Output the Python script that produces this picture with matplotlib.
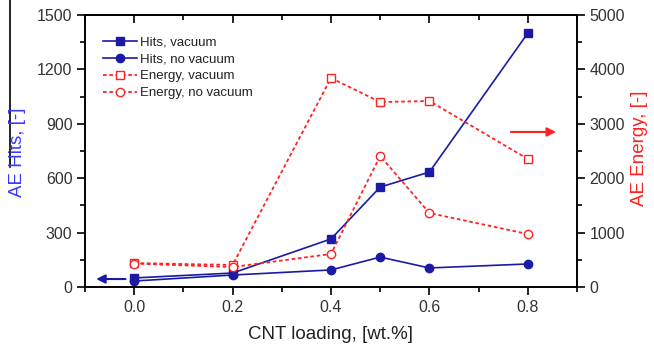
import matplotlib
matplotlib.use("Agg")
import matplotlib.pyplot as plt
from matplotlib.lines import Line2D
from matplotlib.ticker import MultipleLocator

plt.rcParams['font.family'] = ['Liberation Sans', 'DejaVu Sans']

cnt = [0.0, 0.2, 0.4, 0.5, 0.6, 0.8]
hits_vac = [50, 77, 265, 551, 634, 1400]
hits_novac = [33, 66, 94, 165, 105, 127]
energy_vac = [440, 405, 3842, 3400, 3419, 2353]
energy_novac = [430, 367, 607, 2408, 1360, 974]

blue = '#1a1aa6'
red = '#ff2222'
tickc = '#333333'

fig = plt.figure(figsize=(6.54, 3.5), dpi=100)
ax1 = fig.add_axes([85/654, 1-287/350, (577-85)/654, (287-15)/350])
ax2 = ax1.twinx()

l1, = ax1.plot(cnt, hits_vac, '-', color=blue, marker='s', ms=5.5, mfc=blue, mec=blue, lw=1.2, label='Hits, vacuum')
l2, = ax1.plot(cnt, hits_novac, '-', color=blue, marker='o', ms=6, mfc=blue, mec=blue, lw=1.2, label='Hits, no vacuum')
l3, = ax2.plot(cnt, energy_vac, ':', color=red, marker='s', ms=5.5, mfc='white', mec=red, mew=1.0, lw=1.3, label='Energy, vacuum')
l4, = ax2.plot(cnt, energy_novac, ':', color=red, marker='o', ms=6, mfc='white', mec=red, mew=1.0, lw=1.3, label='Energy, no vacuum')
for l in (l3, l4):
    l.set_linestyle((0, (2, 1.5)))

ax1.set_xlim(-0.1, 0.9)
ax1.set_ylim(0, 1500)
ax2.set_ylim(0, 5000)
ax1.set_xticks([0.0, 0.2, 0.4, 0.6, 0.8])
ax1.set_xticklabels(['0.0', '0.2', '0.4', '0.6', '0.8'])
ax1.xaxis.set_minor_locator(MultipleLocator(0.1))
ax1.set_yticks([0, 300, 600, 900, 1200, 1500])
ax1.yaxis.set_minor_locator(MultipleLocator(150))
ax2.set_yticks([0, 1000, 2000, 3000, 4000, 5000])
ax2.yaxis.set_minor_locator(MultipleLocator(500))

for ax in (ax1, ax2):
    for s in ax.spines.values():
        s.set_linewidth(1.2)
ax1.tick_params(axis='both', which='major', direction='out', length=6, width=1.2,
                labelsize=11.5, labelcolor=tickc, pad=3)
ax1.tick_params(axis='both', which='minor', direction='out', length=3.5, width=1.2)
ax2.tick_params(axis='y', which='major', direction='out', length=6, width=1.2,
                labelsize=11.5, labelcolor=tickc, pad=3)
ax2.tick_params(axis='y', which='minor', direction='out', length=3.5, width=1.2)

top = ax1.secondary_xaxis('top')
top.set_xticks([0.0, 0.2, 0.4, 0.6, 0.8])
top.xaxis.set_minor_locator(MultipleLocator(0.1))
top.tick_params(axis='x', which='major', direction='in', length=6, width=1.2, labeltop=False)
top.tick_params(axis='x', which='minor', direction='in', length=3.5, width=1.2)
top.spines['top'].set_linewidth(1.2)

ax1.set_xlabel('CNT loading, [wt.%]', fontsize=13.5, color='#222222', labelpad=8)
fig.text(18/654, 1-152/350, 'AE Hits, [-]', rotation=90, color='#3a3aff', fontsize=13.5,
         ha='center', va='center')
fig.text(640/654, 1-148/350, 'AE Energy, [-]', rotation=90, color=red, fontsize=13.5,
         ha='center', va='center')

ax1.annotate('', xy=(-0.083, 44), xytext=(-0.012, 44),
             arrowprops=dict(arrowstyle='-|>', color=blue, lw=1.5, mutation_scale=13))
ax2.annotate('', xy=(0.863, 2850), xytext=(0.76, 2850),
             arrowprops=dict(arrowstyle='-|>', color=red, lw=1.5, mutation_scale=13))

leg = ax2.legend(handles=[l1, l2, l3, l4], loc='upper left', bbox_to_anchor=(0.02, 0.95),
                 frameon=False, fontsize=9.5, handlelength=2.6, handletextpad=0.2,
                 labelspacing=0.35, borderaxespad=0.2)
for t in leg.get_texts():
    t.set_color('#222222')

fig.add_artist(Line2D([10/654, 10/654], [1.0, 1-167/350], color='black', lw=1.2,
                      transform=fig.transFigure))

fig.savefig('out.png', dpi=100)
